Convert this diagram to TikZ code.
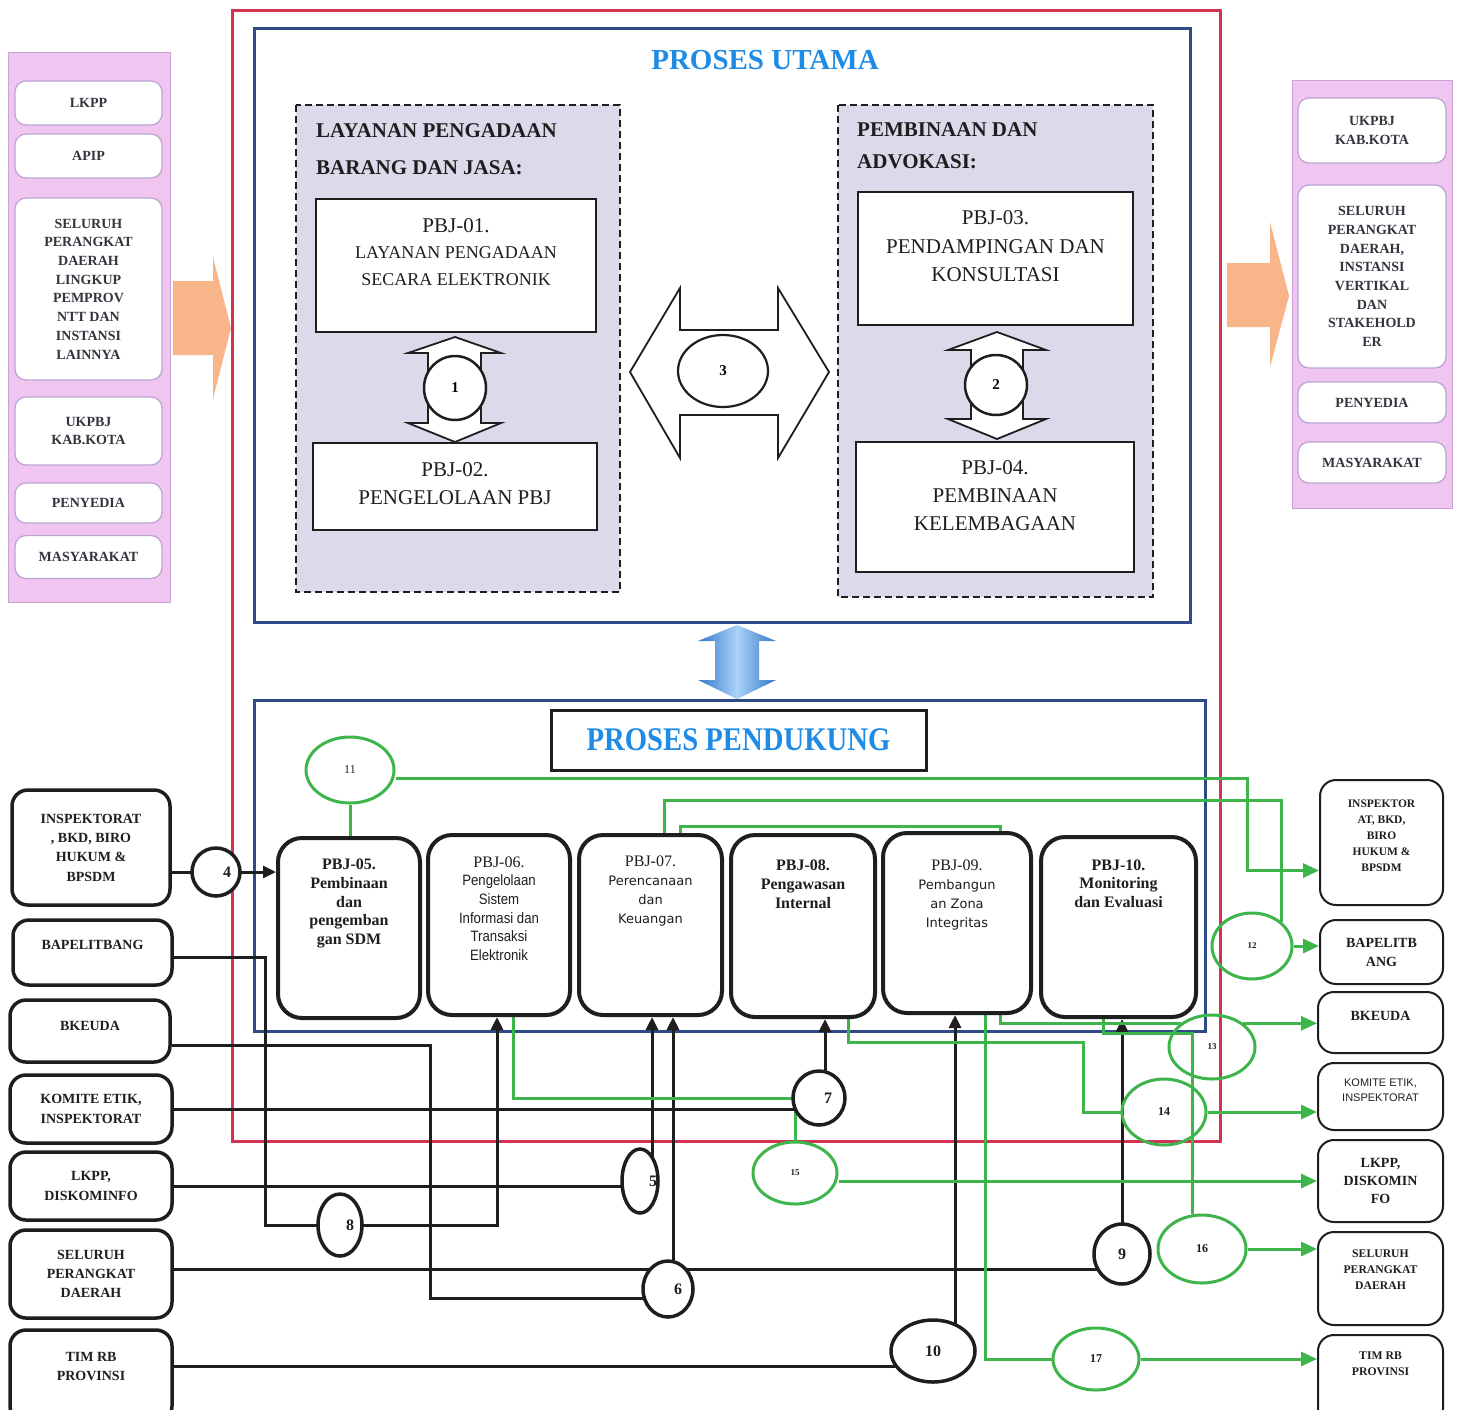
\documentclass[tikz,border=0pt]{standalone}
\usepackage{fontspec}
\setmainfont{Liberation Serif}
\newfontfamily\sansf{Liberation Sans}
\newfontfamily\narrowf[FakeStretch=0.88]{Liberation Sans}
\newfontfamily\verdf{DejaVu Sans}
\newfontfamily\condf[FakeStretch=0.87]{Liberation Serif}
\usetikzlibrary{shapes.geometric,arrows.meta,calc}
\pgfdeclarelayer{back}
\pgfdeclarelayer{wires}
\pgfsetlayers{back,wires,main}

\newcommand{\fz}[2]{\fontsize{#1}{#2}\selectfont}

\definecolor{ink}{HTML}{1E1E1E}
\definecolor{slate}{HTML}{34343F}
\definecolor{redframe}{HTML}{D2334F}
\definecolor{navy}{HTML}{2E4A87}
\definecolor{grn}{HTML}{3DB54A}
\definecolor{ttl}{HTML}{1E8BE6}
\definecolor{pinkbg}{HTML}{F0C5F0}
\definecolor{pinkln}{HTML}{C9A2DA}
\definecolor{pinkin}{HTML}{BBA6D6}
\definecolor{lilac}{HTML}{DADAEB}
\definecolor{peach}{HTML}{F8B58A}
\definecolor{skyd}{HTML}{3478CC}
\definecolor{skyl}{HTML}{A9D2F6}

\begin{document}
\begin{tikzpicture}[x=1pt,y=-1pt,
  txt/.style={inner sep=0pt, align=center, text=ink},
  srcbox/.style={draw=pinkin, line width=1.3pt, fill=white, rounded corners=11pt, inner sep=0pt,
                 align=center, text=slate, font=\bfseries\fz{14}{18.7}},
  mbox/.style={draw=ink, line width=2pt, fill=white, inner sep=0pt},
  pbj/.style={draw=ink, line width=4pt, rounded corners=24pt, fill=white, inner sep=0pt},
  lbox/.style={draw=ink, line width=3.5pt, rounded corners=16pt, fill=white, inner sep=0pt,
               align=center, text=ink, font=\bfseries\fz{14}{19.3}},
  rbox/.style={draw=ink, line width=2pt, rounded corners=16pt, fill=white, inner sep=0pt,
               align=center, text=ink},
  bring/.style={ellipse, draw=ink, line width=3.5pt, fill=white, inner sep=0pt},
  gring/.style={ellipse, draw=grn, line width=3pt, inner sep=0pt, text=ink},
  num/.style={inner sep=0pt, text=ink, font=\bfseries\fz{16}{18}},
  blk/.style={draw=ink, line width=3pt},
  blkarr/.style={blk, -{Triangle[length=13pt,width=12pt]}},
  grl/.style={draw=grn, line width=3pt},
  grarr/.style={grl, -{Triangle[length=16pt,width=14pt]}},
  hollow/.style={draw=ink, line width=1.8pt, fill=white, line join=miter},
]
\useasboundingbox (0,0) rectangle (1458,1409);
\clip (0,0) rectangle (1458,1409);

% ---------------- background: panels, frames, block arrows
\begin{pgfonlayer}{back}
  \fill[white] (0,0) rectangle (1458,1409);
  \draw[pinkln, line width=1pt, fill=pinkbg] (8,52) rectangle (170,602);
  \draw[pinkln, line width=1pt, fill=pinkbg] (1292,80) rectangle (1452,508);
  \fill[peach] (173,281) -- (213,281) -- (213,257) -- (231,328) -- (213,399) -- (213,355) -- (173,355) -- cycle;
  \fill[peach] (1227,263) -- (1270,263) -- (1270,222) -- (1289,296) -- (1270,367) -- (1270,327) -- (1227,327) -- cycle;
  \draw[redframe, line width=3pt] (232,10) rectangle (1220,1141);
  \draw[navy, line width=3pt] (254,28) rectangle (1190,622);
  \draw[navy, line width=3pt] (254,700) rectangle (1205,1031);
  \draw[ink, line width=1.6pt, dash pattern=on 7pt off 4pt, fill=lilac] (296,105) rectangle (620,592);
  \draw[ink, line width=1.6pt, dash pattern=on 7pt off 4pt, fill=lilac] (838,105) rectangle (1153,597);
  \shade[left color=skyd, right color=skyd, middle color=skyl]
    (737,625) -- (776,641) -- (759,641) -- (759,680) -- (776,680) -- (737,699)
    -- (698,680) -- (715,680) -- (715,641) -- (698,641) -- cycle;
\end{pgfonlayer}

% ---------------- stakeholder lists (inputs / outputs)
\node[srcbox, minimum width=147pt, minimum height=44pt]  (sLKPP) at (88.5,103) {LKPP};
\node[srcbox, minimum width=147pt, minimum height=44pt]  (sAPIP) at (88.5,156) {APIP};
\node[srcbox, minimum width=147pt, minimum height=182pt] (sSPD)  at (88.5,289)
  {SELURUH\\PERANGKAT\\DAERAH\\LINGKUP\\PEMPROV\\NTT DAN\\INSTANSI\\LAINNYA};
\node[srcbox, minimum width=147pt, minimum height=68pt]  (sUKP)  at (88.5,431) {UKPBJ\\KAB.KOTA};
\node[srcbox, minimum width=147pt, minimum height=40pt]  (sPNY)  at (88.5,503) {PENYEDIA};
\node[srcbox, minimum width=147pt, minimum height=43pt]  (sMSY)  at (88.5,557) {MASYARAKAT};

\node[srcbox, minimum width=148pt, minimum height=65pt]  (oUKP)  at (1372,130.5) {UKPBJ\\KAB.KOTA};
\node[srcbox, minimum width=148pt, minimum height=183pt] (oSPD)  at (1372,276.5)
  {SELURUH\\PERANGKAT\\DAERAH,\\INSTANSI\\VERTIKAL\\DAN\\STAKEHOLD\\ER};
\node[srcbox, minimum width=148pt, minimum height=41pt]  (oPNY)  at (1372,402.5) {PENYEDIA};
\node[srcbox, minimum width=148pt, minimum height=41pt]  (oMSY)  at (1372,462.5) {MASYARAKAT};

% ---------------- main process
\node[txt, font=\bfseries\fz{29}{34}, text=ttl] (tUtama) at (765,60) {PROSES UTAMA};
\node[txt, anchor=west, align=left, font=\bfseries\fz{21}{37}] (tLay) at (316,149.5)
  {LAYANAN PENGADAAN\\BARANG DAN JASA:};
\node[txt, anchor=west, align=left, font=\bfseries\fz{21}{32}] (tPem) at (857,146)
  {PEMBINAAN DAN\\ADVOKASI:};

\node[mbox, minimum width=280pt, minimum height=133pt] (P01) at (456,265.5) {};
\node[txt, font=\fz{18}{26.5}] (P01t) at (456,252)
  {{\fz{21}{26.5}PBJ-01.}\\LAYANAN PENGADAAN\\SECARA ELEKTRONIK};
\node[mbox, minimum width=284pt, minimum height=87pt] (P02) at (455,486.5) {};
\node[txt, font=\fz{21}{28}] (P02t) at (455,484) {PBJ-02.\\PENGELOLAAN PBJ};
\node[mbox, minimum width=275pt, minimum height=133pt] (P03) at (995.5,258.5) {};
\node[txt, font=\fz{21}{28.5}] (P03t) at (995.5,246.5) {PBJ-03.\\PENDAMPINGAN DAN\\KONSULTASI};
\node[mbox, minimum width=278pt, minimum height=130pt] (P04) at (995,507) {};
\node[txt, font=\fz{21}{28}] (P04t) at (995,496) {PBJ-04.\\PEMBINAAN\\KELEMBAGAAN};

% two-way block arrows
\draw[hollow] (455,337) -- (501,353) -- (481,353) -- (481,423) -- (501,423) -- (455,442)
  -- (408,423) -- (428,423) -- (428,353) -- (408,353) -- cycle;
\draw[hollow] (997,332) -- (1046,350) -- (1023,350) -- (1023,419) -- (1046,419) -- (997,439)
  -- (948,419) -- (971,419) -- (971,350) -- (948,350) -- cycle;
\draw[hollow] (630,372) -- (680,288) -- (680,330) -- (778,330) -- (778,288) -- (829,372)
  -- (778,458) -- (778,415) -- (680,415) -- (680,458) -- cycle;
\node[bring, line width=2.5pt, minimum width=62pt, minimum height=64pt, font=\bfseries\fz{15}{17}] (n1) at (455,388) {1};
\node[bring, line width=2.5pt, minimum width=62pt, minimum height=60pt, font=\bfseries\fz{15}{17}] (n2) at (996,385) {2};
\node[bring, line width=2.2pt, minimum width=90pt, minimum height=72pt, font=\bfseries\fz{15}{17}] (n3) at (723,371) {3};

% ---------------- supporting process
\node[mbox, line width=3pt, minimum width=375pt, minimum height=60pt,
      font=\condf\bfseries\fz{33}{36}, text=ttl] (tPend) at (738.5,740) {PROSES PENDUKUNG};

\node[pbj, minimum width=142pt, minimum height=180pt] (P05) at (349,928) {};
\node[pbj, minimum width=142pt, minimum height=180pt] (P06) at (499,925) {};
\node[pbj, minimum width=143pt, minimum height=180pt] (P07) at (650.5,925) {};
\node[pbj, minimum width=144pt, minimum height=182pt] (P08) at (803,926) {};
\node[pbj, minimum width=148pt, minimum height=180pt] (P09) at (957,923) {};
\node[pbj, minimum width=155pt, minimum height=180pt] (P10) at (1118.5,927) {};

\node[txt, font=\bfseries\fz{16}{18.8}] (P05t) at (349,903.5) {PBJ-05.\\Pembinaan\\dan\\pengemban\\gan SDM};
\node[txt, font=\narrowf\fz{15}{18.6}] (P06t) at (499,908.5)
  {{\rmfamily\fz{16}{18.6}PBJ-06.}\\Pengelolaan\\Sistem\\Informasi dan\\Transaksi\\Elektronik};
\node[txt, font=\verdf\fz{13}{19}] (P07t) at (650.5,891.5)
  {{\rmfamily\fz{16}{19}PBJ-07.}\\Perencanaan\\dan\\Keuangan};
\node[txt, font=\bfseries\fz{16}{19}] (P08t) at (803,884) {PBJ-08.\\Pengawasan\\Internal};
\node[txt, font=\verdf\fz{13}{19.3}] (P09t) at (957,895)
  {{\rmfamily\fz{16}{19.3}PBJ-09.}\\Pembangun\\an Zona\\Integritas};
\node[txt, font=\bfseries\fz{16}{18.5}] (P10t) at (1118.5,883.5) {PBJ-10.\\Monitoring\\dan Evaluasi};

% ---------------- providers (left)
\node[lbox, minimum width=158pt, minimum height=115pt] (L1) at (91,847.5)
  {INSPEKTORAT\\, BKD, BIRO\\HUKUM \&\\BPSDM};
\node[lbox, minimum width=159pt, minimum height=65pt] (L2) at (92.5,952.5) {};
\node[txt, font=\bfseries\fz{14}{19}] (L2t) at (92.5,945) {BAPELITBANG};
\node[lbox, minimum width=160pt, minimum height=62pt] (L3) at (90,1031) {};
\node[txt, font=\bfseries\fz{14}{19}] (L3t) at (90,1026) {BKEUDA};
\node[lbox, minimum width=162pt, minimum height=68pt] (L4) at (91,1109) {KOMITE ETIK,\\INSPEKTORAT};
\node[lbox, minimum width=162pt, minimum height=68pt] (L5) at (91,1186) {LKPP,\\DISKOMINFO};
\node[lbox, minimum width=162pt, minimum height=88pt] (L6) at (91,1274) {SELURUH\\PERANGKAT\\DAERAH};
\node[lbox, minimum width=162pt, minimum height=92pt] (L7) at (91,1376) {};
\node[txt, font=\bfseries\fz{14}{19}] (L7t) at (91,1366) {TIM RB\\PROVINSI};

% ---------------- receivers (right)
\node[rbox, minimum width=123pt, minimum height=125pt] (R1) at (1381.5,842.5) {};
\node[txt, font=\bfseries\fz{11.5}{16}] (R1t) at (1381.5,836) {INSPEKTOR\\AT, BKD,\\BIRO\\HUKUM \&\\BPSDM};
\node[rbox, minimum width=123pt, minimum height=64pt, font=\bfseries\fz{14}{19}] (R2) at (1381.5,952) {BAPELITB\\ANG};
\node[rbox, minimum width=125pt, minimum height=61pt] (R3) at (1380.5,1022.5) {};
\node[txt, font=\bfseries\fz{14}{19}] (R3t) at (1380.5,1016) {BKEUDA};
\node[rbox, minimum width=125pt, minimum height=67pt] (R4) at (1380.5,1096.5) {};
\node[txt, font=\sansf\fz{11}{15}] (R4t) at (1380.5,1090.5) {KOMITE ETIK,\\INSPEKTORAT};
\node[rbox, minimum width=125pt, minimum height=82pt, font=\bfseries\fz{14}{18}] (R5) at (1380.5,1181) {LKPP,\\DISKOMIN\\FO};
\node[rbox, minimum width=125pt, minimum height=93pt] (R6) at (1380.5,1278.5) {};
\node[txt, font=\bfseries\fz{11.7}{16}] (R6t) at (1380.5,1270) {SELURUH\\PERANGKAT\\DAERAH};
\node[rbox, minimum width=125pt, minimum height=90pt] (R7) at (1380.5,1380) {};
\node[txt, font=\bfseries\fz{11.7}{16}] (R7t) at (1380.5,1364) {TIM RB\\PROVINSI};

% ---------------- junction rings
\node[bring, minimum width=48pt, minimum height=48pt] (c4)  at (216,872) {};
\node[bring, minimum width=36pt, minimum height=64pt] (c5)  at (640,1181) {};
\node[bring, minimum width=50pt, minimum height=56pt] (c6)  at (668,1289) {};
\node[bring, minimum width=52pt, minimum height=54pt] (c7)  at (819,1098) {};
\node[bring, minimum width=44pt, minimum height=62pt] (c8)  at (340,1225) {};
\node[bring, minimum width=56pt, minimum height=60pt] (c9)  at (1122,1254) {};
\node[bring, minimum width=84pt, minimum height=62pt] (c10) at (933,1351) {};
\node[num] (k4n)  at ([xshift=11pt]c4.center) {4};
\node[num] (k5n)  at ([xshift=13pt]c5.center) {5};
\node[num] (k6n)  at ([xshift=10pt]c6.center) {6};
\node[num] (k7n)  at ([xshift=9pt]c7.center) {7};
\node[num] (k8n)  at ([xshift=10pt]c8.center) {8};
\node[num] (k9n)  at (c9.center) {9};
\node[num] (k10n) at (c10.center) {10};

\node[gring, minimum width=88pt, minimum height=66pt, font=\fz{12}{14}] (g11) at (350,770) {11};
\node[gring, minimum width=80pt, minimum height=66pt, font=\bfseries\fz{9}{11}] (g12) at (1252,946) {12};
\node[gring, minimum width=86pt, minimum height=64pt, font=\bfseries\fz{9}{11}] (g13) at (1212,1047) {13};
\node[gring, minimum width=84pt, minimum height=66pt, font=\bfseries\fz{12}{14}] (g14) at (1164,1112) {14};
\node[gring, minimum width=84pt, minimum height=62pt, font=\bfseries\fz{9}{11}] (g15) at (795,1173) {15};
\node[gring, minimum width=88pt, minimum height=68pt, font=\bfseries\fz{12}{14}] (g16) at (1202,1249) {16};
\node[gring, minimum width=86pt, minimum height=62pt, font=\bfseries\fz{12}{14}] (g17) at (1096,1359) {17};

% ---------------- routing helpers
\coordinate (k8)  at (265,0);
\coordinate (k6)  at (497,0);
\coordinate (k3)  at (430,0);
\coordinate (k11) at (1247,0);
\coordinate (k14) at (1083,0);
\coordinate (k16) at (1192,0);
\coordinate (h800)  at (0,800);
\coordinate (h826)  at (0,826);
\coordinate (h1042) at (0,1042);
\coordinate (h1033) at (0,1033);
\coordinate (s2)  at ([yshift=-5pt]L2.east);
\coordinate (s3)  at ([yshift=-14pt]L3.east);
\coordinate (s6)  at ([yshift=5pt]L6.east);
\coordinate (s11) at ([yshift=-8pt]g11.east);
\coordinate (e6)  at ([yshift=-9pt]c6.center);
\coordinate (a5)  at ([xshift=12pt]c5.center);
\coordinate (a6)  at ([xshift=5pt]c6.center);
\coordinate (a7)  at ([xshift=6pt]c7.center);
\coordinate (a10) at ([xshift=22pt]c10.center);
\coordinate (e1)  at ([yshift=-28pt]R1.west);
\coordinate (t7a) at ([xshift=14pt]P07.north);
\coordinate (t7b) at ([xshift=30pt]P07.north);
\coordinate (t9a) at ([xshift=43pt]P09.north);
\coordinate (b6g) at ([xshift=14pt]P06.south);
\coordinate (b8g) at ([xshift=45pt]P08.south);
\coordinate (b9a) at ([xshift=28pt]P09.south);
\coordinate (b9b) at ([xshift=43pt]P09.south);
\coordinate (b10) at ([xshift=-15pt]P10.south);

% ---------------- connectors
\begin{pgfonlayer}{wires}
  % inputs into the supporting processes
  \draw[blk] (c4.center -| L1.east) -- (c4.center);
  \draw[blkarr] (c4.center) -- (c4.center -| P05.west);
  \draw[blk] (s2) -- (s2 -| k8) -- (k8 |- c8.center) -- (c8.center);
  \draw[blkarr] (c8.center) -- (c8.center -| k6) -- (k6 |- P06.south);
  \draw[blk] (s3) -- (s3 -| k3) -- (k3 |- e6) -- (e6);
  \draw[blk] (L4.east) -- (L4.east -| c7.center);
  \draw[blk] (L5.east) -- (L5.east -| c5.center);
  \draw[blk] (s6) -- (s6 -| c9.center);
  \draw[blk] (L7.east |- L7t) -- (L7t -| c10.center);
  \draw[blkarr] (a5) -- (a5 |- P07.south);
  \draw[blkarr] (a6) -- (a6 |- P07.south);
  \draw[blkarr] (a7) -- (a7 |- P08.south);
  \draw[blkarr] (c9.center) -- (c9.center |- P10.south);
  \draw[blkarr] (a10) -- (a10 |- P09.south);

  % outputs of the supporting processes
  \draw[grl] (g11.south) -- (g11.south |- P05.north);
  \draw[grarr] (s11) -- (s11 -| k11) -- (k11 |- e1) -- (e1);
  \draw[grl] (t7a) -- (t7a |- h800) -- (g12.north east |- h800) -- (g12.north east);
  \draw[grarr] (g12.east) -- (g12.east -| R2.west);
  \draw[grl] (t7b) -- (t7b |- h826) -- (t9a |- h826) -- (t9a);
  \draw[grl] (b6g) -- (b6g |- c7.center) -- (c7.center);
  \draw[grl] (g15.north) -- (g15.north |- c7.center);
  \draw[grarr] (R5.west -| g15.east) -- (R5.west);
  \draw[grl] (b8g) -- (b8g |- h1042) -- (k14 |- h1042) -- (k14 |- g14.west) -- (g14.west);
  \draw[grarr] (g14.east) -- (g14.east -| R4.west);
  \draw[grl] (b9a) -- (b9a |- g17.west) -- (g17.west);
  \draw[grarr] (g17.east) -- (g17.east -| R7.west);
  \draw[grl] (b9b) -- (b9b |- g13.north west) -- (g13.north west);
  \draw[grarr] (g13.north east) -- (g13.north east -| R3.west);
  \draw[grl] (b10) -- (b10 |- h1033) -- (k16 |- h1033) -- (k16 |- g16.north);
  \draw[grarr] (g16.east) -- (g16.east -| R6.west);
\end{pgfonlayer}
\end{tikzpicture}
\end{document}
